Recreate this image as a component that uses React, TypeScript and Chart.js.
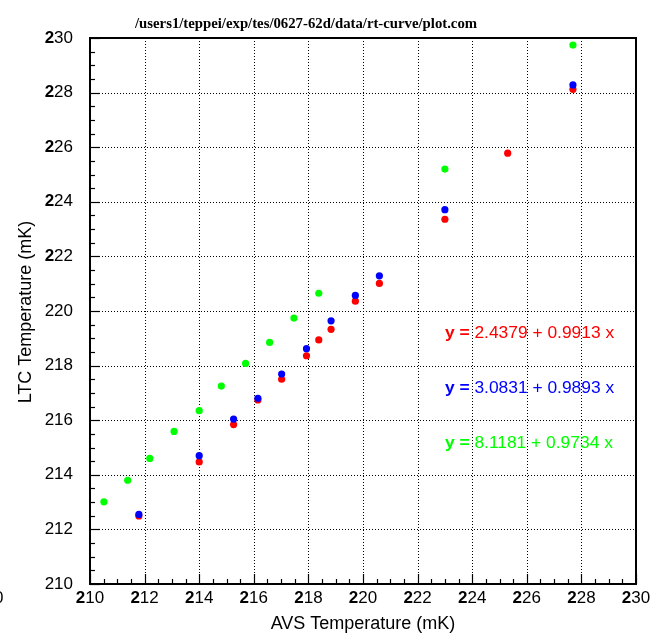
import { useEffect, useRef } from "react";
import { Chart, registerables } from "chart.js";

Chart.register(...registerables);

// Axis ranges and labelled ticks
const xTicks = [210, 212, 214, 216, 218, 220, 222, 224, 226, 228, 230];
const yTicks = [210, 212, 214, 216, 218, 220, 222, 224, 226, 228, 230];
const yTickBoldLead = [false, false, false, false, false, false, true, true, true, true, true];
const minorStep = 0.5;

// AVS vs LTC temperature readings (mK)
const redX = [211.79, 214.0, 215.26, 216.15, 217.02, 217.93, 218.38, 218.83, 219.72, 220.6, 223.0, 225.3, 227.69];
const redY = [212.49, 214.47, 215.84, 216.74, 217.5, 218.36, 218.94, 219.33, 220.36, 221.01, 223.36, 225.78, 228.12];

const blueX = [211.79, 214.0, 215.26, 216.15, 217.02, 217.93, 218.83, 219.72, 220.6, 223.0, 227.69];
const blueY = [212.55, 214.7, 216.04, 216.8, 217.69, 218.62, 219.64, 220.57, 221.29, 223.71, 228.28];

const greenX = [210.51, 211.38, 212.19, 213.08, 214.0, 214.81, 215.7, 216.58, 217.47, 218.38, 223.0, 227.69];
const greenY = [213.01, 213.8, 214.6, 215.59, 216.35, 217.25, 218.08, 218.85, 219.74, 220.65, 225.2, 229.74];

// Linear fit annotations
const fitLabels = ["2.4379 + 0.9913 x", "3.0831 + 0.9893 x", "8.1181 + 0.9734 x"];
const fitColors = ["#ff0000", "#0000ff", "#00ff00"];
const fitLabelX = 223.0;
const fitLabelY = [219.2, 217.18, 215.16];

const titleText = "/users1/teppei/exp/tes/0627-62d/data/rt-curve/plot.com";
const xTitle = "AVS Temperature (mK)";
const yTitle = "LTC Temperature (mK)";

const SANS = '"Liberation Sans", Arial, sans-serif';
const SERIF = '"Liberation Serif", "Times New Roman", serif';

type Part = [string, boolean];

function drawParts(
  ctx: CanvasRenderingContext2D,
  parts: Part[],
  x: number,
  y: number,
  align: "left" | "center" | "right",
  size: number,
  color: string
) {
  const fontFor = (bold: boolean) => `${bold ? "bold " : ""}${size}px ${SANS}`;
  let total = 0;
  for (const [t, b] of parts) {
    ctx.font = fontFor(b);
    total += ctx.measureText(t).width;
  }
  let cx = align === "left" ? x : align === "center" ? x - total / 2 : x - total;
  ctx.fillStyle = color;
  ctx.textAlign = "left";
  ctx.textBaseline = "middle";
  for (const [t, b] of parts) {
    ctx.font = fontFor(b);
    ctx.fillText(t, cx, y);
    cx += ctx.measureText(t).width;
  }
}

const framePlugin = {
  id: "frame",
  beforeDatasetsDraw(chart: any) {
    const { ctx, chartArea: a, scales } = chart;
    const xs = scales.x;
    const ys = scales.y;
    const xMin = xTicks[0];
    const xMax = xTicks[xTicks.length - 1];
    const yMin = yTicks[0];
    const yMax = yTicks[yTicks.length - 1];
    ctx.save();

    // dotted grid at the labelled ticks
    ctx.strokeStyle = "#000";
    ctx.lineWidth = 1;
    ctx.setLineDash([1, 2]);
    for (const v of xTicks) {
      if (v === xMin || v === xMax) continue;
      const px = Math.round(xs.getPixelForValue(v)) + 0.5;
      ctx.beginPath();
      ctx.moveTo(px, a.top);
      ctx.lineTo(px, a.bottom);
      ctx.stroke();
    }
    for (const v of yTicks) {
      if (v === yMin || v === yMax) continue;
      const py = Math.round(ys.getPixelForValue(v)) + 0.5;
      ctx.beginPath();
      ctx.moveTo(a.left, py);
      ctx.lineTo(a.right, py);
      ctx.stroke();
    }
    ctx.setLineDash([]);

    // inward tick marks on the bottom and left axes
    ctx.lineWidth = 1.2;
    for (let v = xMin; v <= xMax + 1e-9; v += minorStep) {
      const major = xTicks.some((t) => Math.abs(t - v) < 1e-6);
      const px = Math.round(xs.getPixelForValue(v)) + 0.5;
      ctx.beginPath();
      ctx.moveTo(px, a.bottom);
      ctx.lineTo(px, a.bottom - (major ? 10 : 5));
      ctx.stroke();
    }
    for (let v = yMin; v <= yMax + 1e-9; v += minorStep) {
      const major = yTicks.some((t) => Math.abs(t - v) < 1e-6);
      const py = Math.round(ys.getPixelForValue(v)) + 0.5;
      ctx.beginPath();
      ctx.moveTo(a.left, py);
      ctx.lineTo(a.left + (major ? 10 : 5), py);
      ctx.stroke();
    }

    // plot frame
    ctx.lineWidth = 2;
    ctx.strokeRect(a.left, a.top, a.right - a.left, a.bottom - a.top);
    ctx.restore();
  },
  afterDraw(chart: any) {
    const { ctx, chartArea: a, scales } = chart;
    const xs = scales.x;
    const ys = scales.y;
    ctx.save();

    // title
    ctx.font = `bold 14.75px ${SERIF}`;
    ctx.fillStyle = "#000";
    ctx.textAlign = "left";
    ctx.textBaseline = "middle";
    ctx.fillText(titleText, 135, 24);

    // x tick labels
    for (const v of xTicks) {
      const s = String(v);
      drawParts(ctx, [[s.slice(0, 1), true], [s.slice(1), false]], xs.getPixelForValue(v), a.bottom + 14.5, "center", 17, "#000");
    }
    // y tick labels
    yTicks.forEach((v, i) => {
      const s = String(v);
      const parts: Part[] = yTickBoldLead[i] ? [[s.slice(0, 1), true], [s.slice(1), false]] : [[s, false]];
      drawParts(ctx, parts, a.left - 17, ys.getPixelForValue(v), "right", 17, "#000");
    });
    drawParts(ctx, [[String(yTicks[0]), false]], 3.5, a.bottom + 14, "right", 17, "#000");

    // axis titles
    ctx.fillStyle = "#000";
    ctx.font = `18px ${SANS}`;
    ctx.textAlign = "center";
    ctx.textBaseline = "middle";
    ctx.fillText(xTitle, (a.left + a.right) / 2, 624);
    ctx.save();
    ctx.translate(26, 312);
    ctx.rotate(-Math.PI / 2);
    ctx.fillText(yTitle, 0, 0);
    ctx.restore();

    // fit equations
    fitLabels.forEach((t, i) => {
      drawParts(ctx, [["y =", true], [" " + t, false]], xs.getPixelForValue(fitLabelX), ys.getPixelForValue(fitLabelY[i]), "left", 17.4, fitColors[i]);
    });
    ctx.restore();
  },
};

function toPoints(xv: number[], yv: number[]) {
  return xv.map((x, i) => ({ x, y: yv[i] }));
}

export default function App() {
  const canvasRef = useRef<HTMLCanvasElement | null>(null);

  useEffect(() => {
    if (!canvasRef.current) return;
    const pointStyle = (color: string) => ({
      backgroundColor: color,
      borderColor: color,
      borderWidth: 0,
      pointRadius: 3.6,
      pointHoverRadius: 3.6,
      showLine: false,
    });
    const chart = new Chart(canvasRef.current, {
      type: "scatter",
      data: {
        datasets: [
          { label: "blue", data: toPoints(blueX, blueY), ...pointStyle("#0000ff") },
          { label: "red", data: toPoints(redX, redY), ...pointStyle("#ff0000") },
          { label: "green", data: toPoints(greenX, greenY), ...pointStyle("#00ff00") },
        ],
      },
      options: {
        responsive: true,
        maintainAspectRatio: false,
        animation: false,
        events: [],
        layout: { padding: { left: 90, right: 24, top: 38, bottom: 54 }, autoPadding: false },
        plugins: {
          legend: { display: false },
          tooltip: { enabled: false },
          title: { display: false },
        },
        scales: {
          x: { type: "linear", min: xTicks[0], max: xTicks[xTicks.length - 1], display: false },
          y: { type: "linear", min: yTicks[0], max: yTicks[yTicks.length - 1], display: false },
        },
      },
      plugins: [framePlugin],
    });
    return () => chart.destroy();
  }, []);

  return (
    <div style={{ position: "fixed", left: 0, top: 0, width: 660, height: 638, background: "#fff" }}>
      <canvas ref={canvasRef} />
    </div>
  );
}
